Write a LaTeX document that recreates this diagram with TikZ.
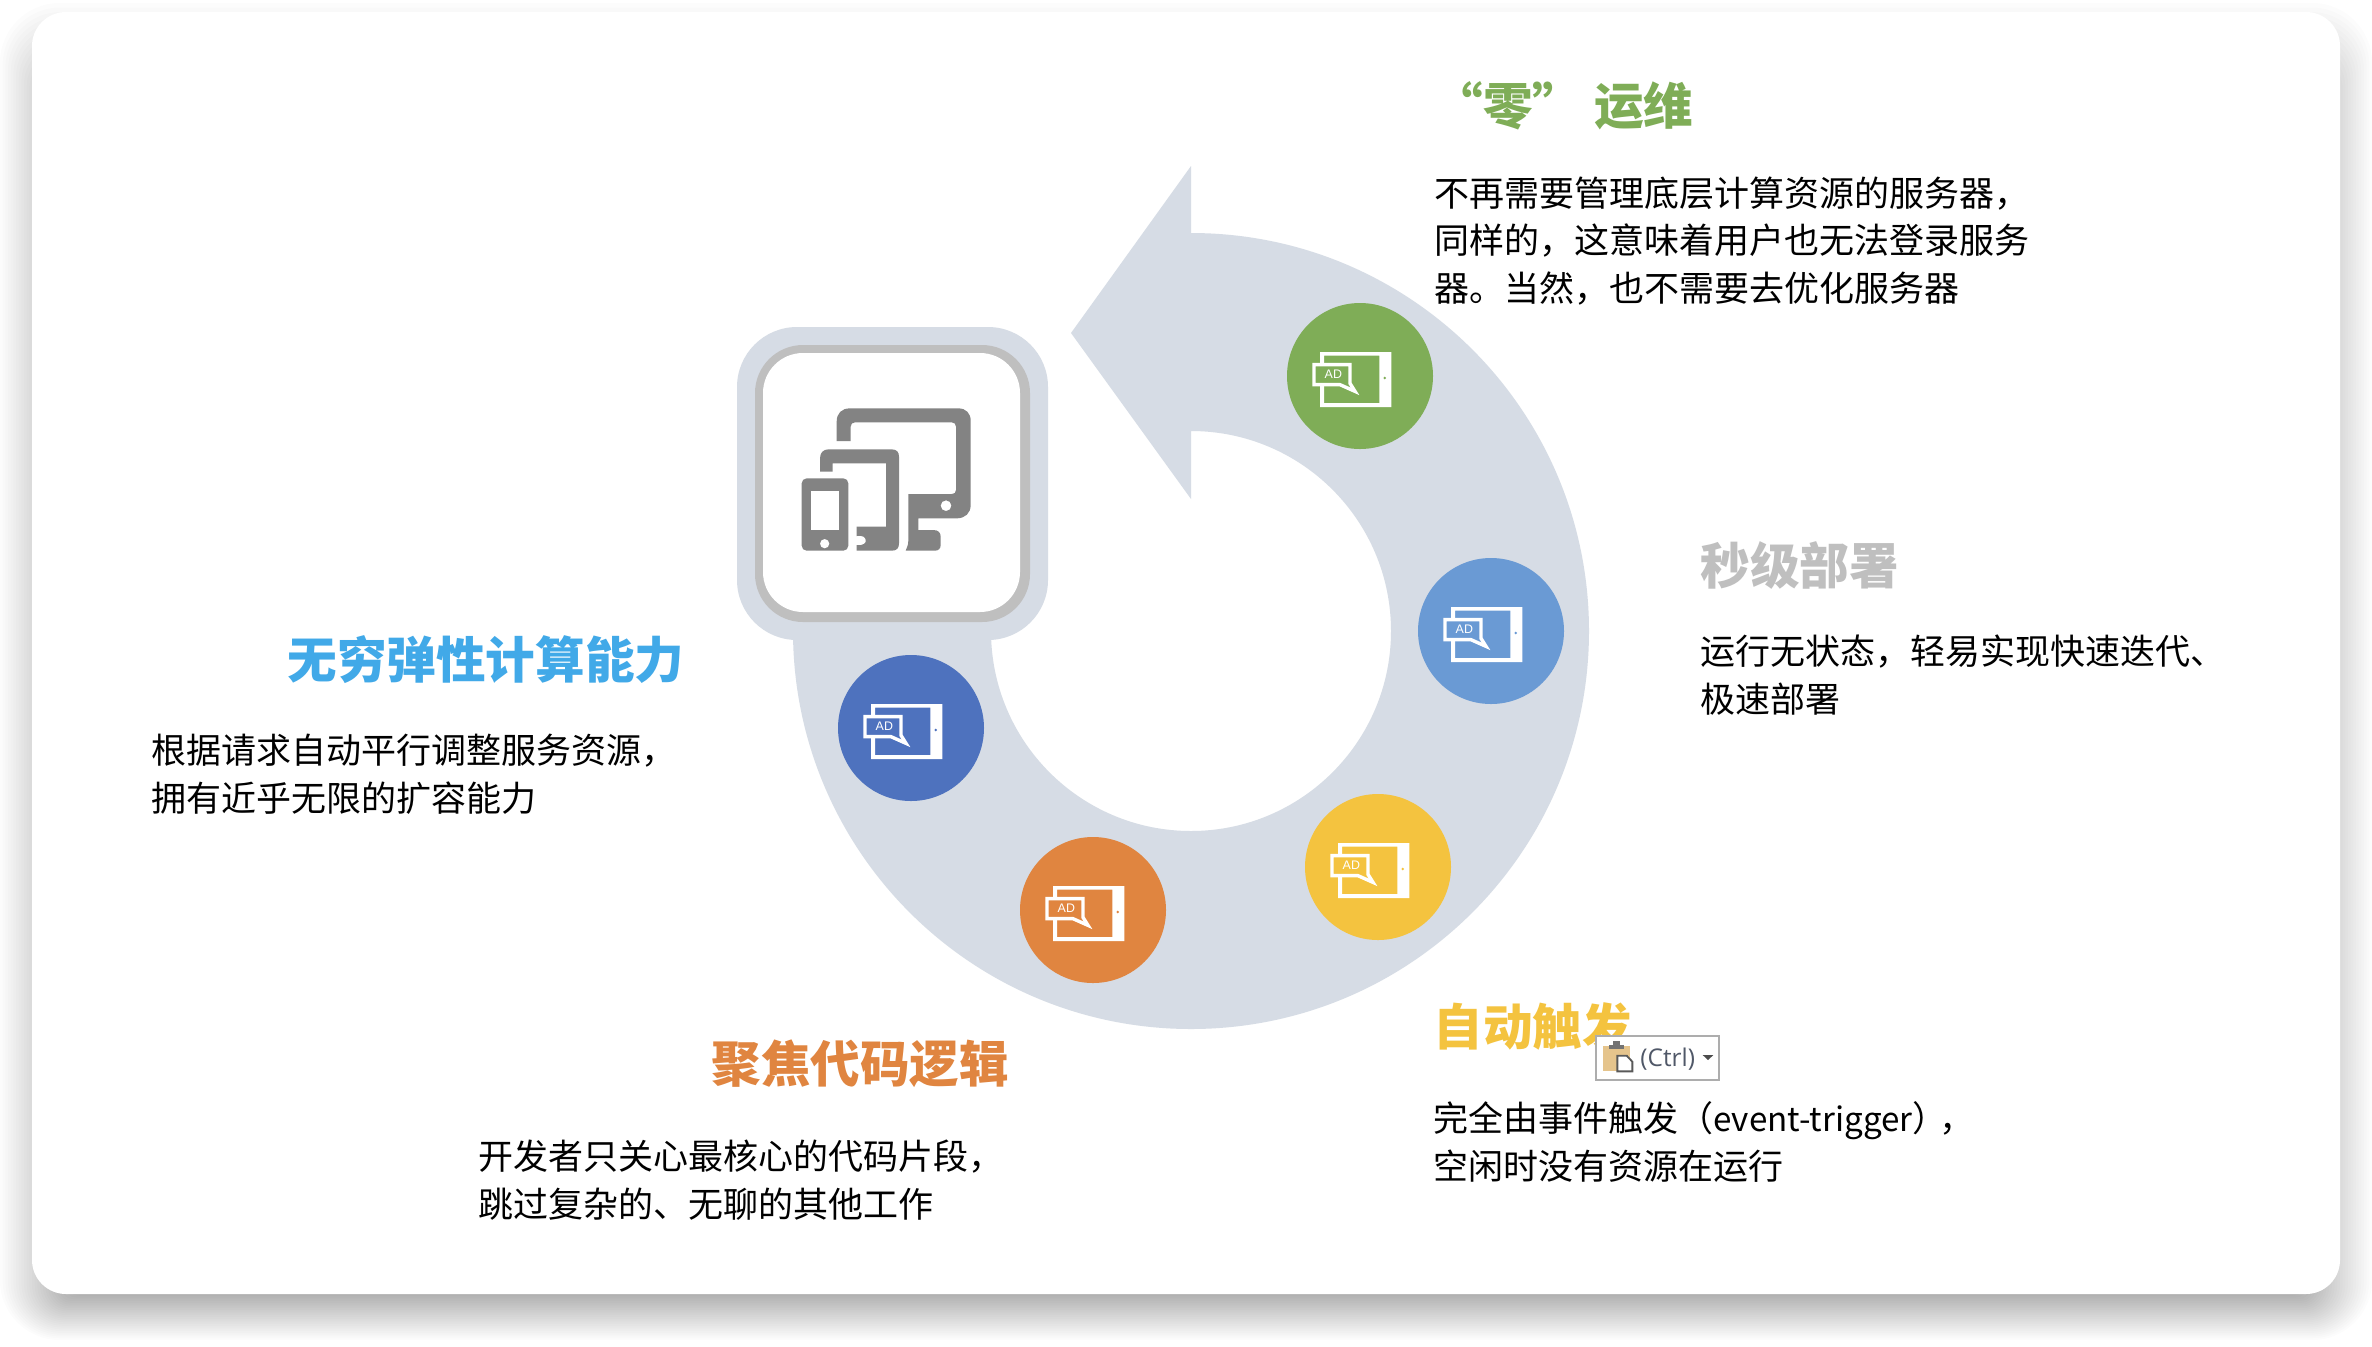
\documentclass[tikz,border=0pt]{standalone}
\usepackage{fontspec}
\setmainfont{Open Sans}
\newfontfamily\cjk{Noto Sans CJK SC}
\newfontfamily\lat{Liberation Sans}
\definecolor{ringc}{HTML}{D6DCE5}
\definecolor{edgec}{HTML}{BFBFBF}
\definecolor{iconc}{HTML}{838383}
\definecolor{greenc}{HTML}{7FAD57}
\definecolor{bluec}{HTML}{6A9AD4}
\definecolor{yellowc}{HTML}{F4C33F}
\definecolor{orangec}{HTML}{E08540}
\definecolor{navyc}{HTML}{4E72BE}
\definecolor{skyc}{HTML}{41A9E8}
\definecolor{tanc}{HTML}{E5C48C}
\definecolor{ctrlc}{HTML}{505868}
\tikzset{
  dot/.style={circle,inner sep=0pt,minimum size=73pt},
  heading/.style={anchor=west,inner sep=0pt,font=\cjk\bfseries\fontsize{24.8}{28}\selectfont},
  body/.style={anchor=west,inner sep=0pt,align=left,text=black,font=\cjk\fontsize{17.5}{23.8}\selectfont},
}
\newcommand\adicon[2]{%
  \begin{scope}[shift={(#1.center)},x=0.16667pt,y=-0.16667pt]
    \fill[white,even odd rule] (-120,-72) rectangle (94,93) (-108,-61) rectangle (58,81);
    \fill[#2] (74,6) circle[radius=0.7pt];
    \draw[white,fill=#2,line width=1.7pt,line join=miter] (-138,-34) -- (-30,-34) -- (-30,22) -- (-15,46) -- (-60,26) -- (-138,26) -- cycle;
    \node[white,inner sep=0pt,font=\lat\fontsize{6.2}{7}\selectfont] (#1-ad) at (-80,-4) {AD};
  \end{scope}}
\begin{document}
\begin{tikzpicture}[x=0.5pt,y=-0.5pt]
\useasboundingbox (0,0) rectangle (2372,1346);
\fill[white] (0,0) rectangle (2372,1346);
% card shadow
\foreach \i in {0,...,29}{
  \pgfmathsetmacro\sx{32-2.67*\i}
  \pgfmathsetmacro\sb{46-1.77*\i}
  \pgfmathsetmacro\st{-9+4.5*\i}
  \pgfmathsetmacro\rr{max(17+0.4*(32-2.67*\i),6)}
  \fill[black,opacity=0.0115,rounded corners=\rr pt] (32-\sx,12+\st) rectangle (2340+\sx,1294+\sb);
}
\fill[white,rounded corners=17pt] (32,12) rectangle (2340,1294);
% ring arrow
\fill[ringc] (1191,166) -- (1071,333) -- (1191,499) -- (1191,431)
  arc[start angle=90,end angle=-180,radius=100pt] -- (793,631)
  arc[start angle=180,end angle=450,radius=199pt] -- cycle;
% central box
\fill[ringc,rounded corners=30pt] (737,327) rectangle (1048,640);
\fill[edgec,rounded corners=24pt] (755,345) rectangle (1030,622);
\fill[white,rounded corners=20pt] (763,353) rectangle (1020,612);
% devices icon
\begin{scope}[shift={(700,300)},x=0.16667pt,y=-0.16667pt]
  \fill[iconc,even odd rule] (410,423) -- (410,365) .. controls (410,340) and (425,325) .. (450,325)
    -- (775,325) .. controls (798,325) and (812,340) .. (812,362) -- (812,615)
    .. controls (812,640) and (795,655) .. (770,655) -- (655,655) -- (655,690) -- (700,690)
    .. controls (715,690) and (722,698) .. (722,710) -- (722,735) .. controls (722,746) and (715,752) .. (705,752)
    -- (617,752) .. controls (622,742) and (625,732) .. (625,720) -- (625,582) -- (755,582)
    .. controls (763,582) and (768,578) .. (768,570) -- (768,380) .. controls (768,372) and (763,367) .. (755,367)
    -- (465,367) .. controls (457,367) and (452,372) .. (452,380) -- (452,423) -- cycle
    (738,617) circle[radius=2.7pt];
  \fill[iconc] (360,515) -- (360,475) .. controls (360,458) and (370,448) .. (385,448) -- (575,448)
    .. controls (590,448) and (597,456) .. (597,470) -- (597,730) .. controls (597,745) and (590,752) .. (575,752)
    -- (470,752) -- (470,735) .. controls (490,738) and (500,728) .. (497,720) .. controls (497,712) and (488,705) .. (470,708)
    -- (470,680) -- (558,680) -- (558,490) -- (398,490) -- (398,515) -- cycle;
  \fill[iconc,even odd rule,rounded corners=2.5pt] (305,535) rectangle (445,752);
  \fill[white] (333,572) rectangle (417,690);
  \fill[white] (374,731) circle[radius=2.3pt];
\end{scope}
% feature dots
\node[dot,fill=greenc] (d1) at (1360,376) {};
\node[dot,fill=bluec] (d2) at (1491,631) {};
\node[dot,fill=yellowc] (d3) at (1378,867) {};
\node[dot,fill=orangec] (d4) at (1093,910) {};
\node[dot,fill=navyc] (d5) at (911,728) {};
\adicon{d1}{greenc}
\adicon{d2}{bluec}
\adicon{d3}{yellowc}
\adicon{d4}{orangec}
\adicon{d5}{navyc}
% texts
\node[heading,text=greenc] (t1) at (1433,106) {“零”\hspace{6pt}运维};
\node[body] (b1) at (1434,241) {不再需要管理底层计算资源的服务器，\\同样的，这意味着用户也无法登录服务\\器。当然，也不需要去优化服务器};
\node[heading,text=edgec] (t2) at (1700,565) {秒级部署};
\node[body] (b2) at (1700,675) {运行无状态，轻易实现快速迭代、\\极速部署};
\node[heading,text=skyc] (t3) at (287,660) {无穷弹性计算能力};
\node[body] (b3) at (151,774) {根据请求自动平行调整服务资源，\\拥有近乎无限的扩容能力};
\node[heading,text=orangec] (t4) at (711,1064) {聚焦代码逻辑};
\node[body] (b4) at (478,1180) {开发者只关心最核心的代码片段，\\跳过复杂的、无聊的其他工作};
\node[heading,text=yellowc] (t5) at (1433,1026) {自动触发};
\node[body] (b5) at (1433,1142) {完全由事件触发（{\fontsize{16.6}{23.8}\selectfont event-trigger}）\hspace{-4pt}，\\空闲时没有资源在运行};
% paste options tag
\node[draw=black!32,line width=1pt,fill=white,minimum width=61.5pt,minimum height=22pt,inner sep=0pt] (tag) at (1657.5,1057.5) {};
\begin{scope}[shift={(1400,970)},x=0.16667pt,y=-0.16667pt]
  \fill[tanc] (610,228) rectangle (690,302);
  \fill[black!55] (628,224) rectangle (672,238);
  \fill[black!55] (640,214) rectangle (660,226);
  \draw[black!65,fill=white,line width=0.9pt] (652,257) -- (680,257) -- (697,275) -- (697,304) -- (652,304) -- cycle;
  \fill[black!70] (908,255) -- (940,255) -- (924,270) -- cycle;
  \node[text=ctrlc,inner sep=0pt,font=\fontsize{12.2}{14}\selectfont] (ctrl) at (803,268) {(Ctrl)};
\end{scope}
\end{tikzpicture}
\end{document}
